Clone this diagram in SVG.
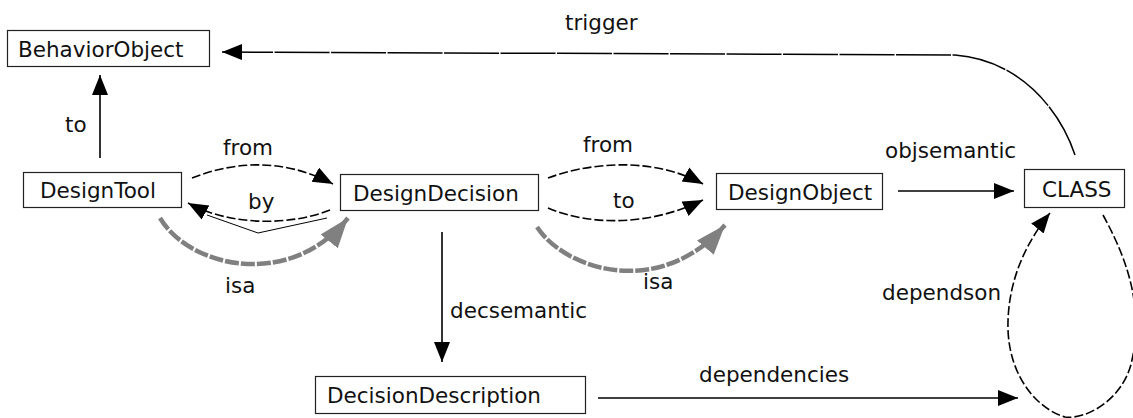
<svg xmlns="http://www.w3.org/2000/svg" width="1133" height="418" viewBox="0 0 1133 418">
  <style>
    .box { fill: #ffffff; stroke: #222222; stroke-width: 1.2; }
    .lbl { font-family: "DejaVu Sans", "Liberation Sans", sans-serif; font-size: 21.5px; fill: #111111; }
    .solid { fill: none; stroke: #000000; stroke-width: 1.6; }
    .dash { fill: none; stroke: #000000; stroke-width: 1.6; stroke-dasharray: 9 3; }
    .long { fill: none; stroke: #000000; stroke-width: 1.5; stroke-dasharray: 55 1.5; }
    .isa { fill: none; stroke: #808080; stroke-width: 4.5; stroke-dasharray: 14 2; }
    .thin { fill: none; stroke: #000000; stroke-width: 1; }
  </style>
  <defs>
    <marker id="head" markerUnits="userSpaceOnUse" markerWidth="22" markerHeight="18" refX="20" refY="8" orient="auto">
      <path d="M0,0 L20,8 L0,16 Z" fill="#000000"/>
    </marker>
    <marker id="headGray" markerUnits="userSpaceOnUse" markerWidth="32" markerHeight="24" refX="30" refY="11" orient="auto">
      <path d="M0,0 L30,11 L0,22 Z" fill="#808080"/>
    </marker>
  </defs>
  <rect width="1133" height="418" fill="#ffffff"/>

  <g id="connectors">
    <!-- to: DesignTool -> BehaviorObject -->
    <path class="solid" d="M100,158 L100,75" marker-end="url(#head)"/>
    <text class="lbl" x="65" y="132">to</text>

    <!-- trigger: CLASS -> BehaviorObject -->
    <path class="long" d="M1075,155 C1060,110 1020,60 955,55 L222,52" marker-end="url(#head)"/>
    <text class="lbl" x="565" y="30">trigger</text>

    <!-- from: DesignTool -> DesignDecision -->
    <path class="dash" d="M192,178 C230,163 280,156 333,184" marker-end="url(#head)"/>
    <text class="lbl" x="223" y="155">from</text>

    <!-- by: DesignDecision -> DesignTool -->
    <path class="dash" d="M330,210 C290,226 230,226 188,203" marker-end="url(#head)"/>
    <path class="thin" d="M207,215 L258,233 L327,218"/>
    <text class="lbl" x="248" y="209">by</text>

    <!-- isa: DesignTool -> DesignDecision -->
    <path class="isa" d="M160,218 C190,268 290,290 348,218" marker-end="url(#headGray)"/>
    <text class="lbl" x="225" y="293">isa</text>

    <!-- from: DesignDecision -> DesignObject -->
    <path class="dash" d="M548,178 C585,164 650,155 703,184" marker-end="url(#head)"/>
    <text class="lbl" x="583" y="152">from</text>

    <!-- to: DesignDecision -> DesignObject -->
    <path class="dash" d="M548,208 C590,226 650,226 703,200" marker-end="url(#head)"/>
    <text class="lbl" x="613" y="208">to</text>

    <!-- isa: DesignDecision -> DesignObject -->
    <path class="isa" d="M537,227 C565,270 660,300 725,225" marker-end="url(#headGray)"/>
    <text class="lbl" x="643" y="289">isa</text>

    <!-- objsemantic: DesignObject -> CLASS -->
    <path class="solid" d="M898,191 L1014,191" marker-end="url(#head)"/>
    <text class="lbl" x="885" y="158">objsemantic</text>

    <!-- decsemantic: DesignDecision -> DecisionDescription -->
    <path class="solid" d="M442,232 L442,362" marker-end="url(#head)"/>
    <text class="lbl" x="450" y="318">decsemantic</text>

    <!-- dependencies: DecisionDescription -> CLASS -->
    <path class="solid" d="M598,398 L1018,398" marker-end="url(#head)"/>
    <text class="lbl" x="699" y="382">dependencies</text>

    <!-- dependson: CLASS -> CLASS -->
    <path class="dash" d="M1103,215 C1122,250 1145,300 1132,360 C1124,400 1085,420 1065,417 C1040,410 1010,380 1008,330 C1007,290 1020,250 1050,213" marker-end="url(#head)"/>
    <text class="lbl" x="882" y="300">dependson</text>
  </g>

  <g id="BehaviorObject">
    <rect class="box" x="7.5" y="30.5" width="202" height="36"/>
    <text class="lbl" x="18" y="57">BehaviorObject</text>
  </g>
  <g id="DesignTool">
    <rect class="box" x="23.5" y="172.5" width="158" height="35"/>
    <text class="lbl" x="40" y="198">DesignTool</text>
  </g>
  <g id="DesignDecision">
    <rect class="box" x="340.5" y="174.5" width="198" height="36"/>
    <text class="lbl" x="353" y="201">DesignDecision</text>
  </g>
  <g id="DesignObject">
    <rect class="box" x="716.5" y="173.5" width="166" height="36"/>
    <text class="lbl" x="728" y="200">DesignObject</text>
  </g>
  <g id="CLASS">
    <rect class="box" x="1024.5" y="169.5" width="100" height="38"/>
    <text class="lbl" x="1042" y="197">CLASS</text>
  </g>
  <g id="DecisionDescription">
    <rect class="box" x="315.5" y="376.5" width="270" height="37"/>
    <text class="lbl" x="327" y="403">DecisionDescription</text>
  </g>
</svg>
